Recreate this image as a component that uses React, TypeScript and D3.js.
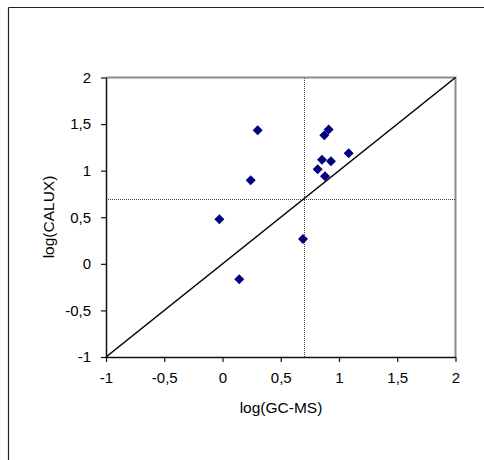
import { useEffect, useRef } from "react";
import * as d3 from "d3";

const W = 484;
const H = 460;

// log(GC-MS) vs log(CALUX)
const gcms = [0.302, 0.242, -0.027, 0.144, 0.691, 0.817, 0.854, 0.931, 0.88, 0.874, 0.911, 1.083];
const calux = [1.435, 0.898, 0.479, -0.166, 0.267, 1.016, 1.116, 1.102, 0.941, 1.381, 1.442, 1.188];
const ticks = [-1, -0.5, 0, 0.5, 1, 1.5, 2];
const threshold = 0.7;

const fmt = (v: number) => String(v).replace(".", ",");

export default function App() {
  const ref = useRef<SVGSVGElement>(null);

  useEffect(() => {
    const svg = d3.select(ref.current);
    svg.selectAll("*").remove();

    const x = d3.scaleLinear().domain([-1, 2]).range([106, 455.5]);
    const y = d3.scaleLinear().domain([-1, 2]).range([357, 77.5]);

    // outer frame (only left/top visible)
    svg.append("line").attr("x1", 8.5).attr("y1", 7.5).attr("x2", W).attr("y2", 7.5)
      .style("stroke", "#222").style("stroke-width", 1.2);
    svg.append("line").attr("x1", 8.5).attr("y1", 7.5).attr("x2", 8.5).attr("y2", H)
      .style("stroke", "#222").style("stroke-width", 1.2);

    // gray top/right plot border
    svg.append("path")
      .attr("d", `M${x(-1)},${y(2)}H${x(2)}V${y(-1)}`)
      .style("fill", "none").style("stroke", "#8c8c8c").style("stroke-width", 2);

    // dotted thresholds
    const tx = Math.round(x(threshold)) + 0.5;
    const ty = Math.round(y(threshold)) + 0.5;
    svg.append("line").attr("x1", tx).attr("x2", tx)
      .attr("y1", y(2)).attr("y2", y(-1))
      .style("stroke", "#444").style("stroke-width", 1).style("stroke-dasharray", "1,1")
      .style("shape-rendering", "crispEdges");
    svg.append("line").attr("x1", x(-1)).attr("x2", x(2))
      .attr("y1", ty).attr("y2", ty)
      .style("stroke", "#444").style("stroke-width", 1).style("stroke-dasharray", "1,1")
      .style("shape-rendering", "crispEdges");

    // 1:1 line
    svg.append("line").attr("x1", x(-1)).attr("y1", y(-1)).attr("x2", x(2)).attr("y2", y(2))
      .style("stroke", "#000").style("stroke-width", 1.6);

    const font = "'Liberation Sans', Arial, sans-serif";

    const xAxis = svg.append("g").attr("transform", `translate(0,${y(-1)})`)
      .call(d3.axisBottom(x).tickValues(ticks).tickSize(5).tickSizeOuter(0).tickPadding(10).tickFormat((d) => fmt(+d)));
    const yAxis = svg.append("g").attr("transform", `translate(${x(-1)},0)`)
      .call(d3.axisLeft(y).tickValues(ticks).tickSize(5).tickSizeOuter(0).tickPadding(10).tickFormat((d) => fmt(+d)));
    [xAxis, yAxis].forEach((g) => {
      g.select(".domain").style("stroke", "#111").style("stroke-width", 1.5);
      g.selectAll(".tick line").style("stroke", "#111").style("stroke-width", 1.2);
      g.selectAll("text").style("font-family", font).style("font-size", "15px").style("fill", "#000");
    });

    // points (square diamonds)
    const sym = d3.symbol().type(d3.symbolSquare).size(50);
    svg.append("g").selectAll("path").data(gcms).join("path")
      .attr("transform", (d, i) => `translate(${x(d)},${y(calux[i])}) rotate(45)`)
      .attr("d", sym)
      .style("fill", "#000080");

    svg.append("text").attr("x", 281).attr("y", 413).attr("text-anchor", "middle")
      .style("font-family", font).style("font-size", "15.5px").text("log(GC-MS)");
    svg.append("text").attr("transform", `translate(53.5,217) rotate(-90)`).attr("text-anchor", "middle")
      .style("font-family", font).style("font-size", "15.5px").text("log(CALUX)");
  }, []);

  return (
    <svg ref={ref} width={W} height={H}
      style={{ position: "absolute", left: 0, top: 0, background: "#fff" }} />
  );
}
